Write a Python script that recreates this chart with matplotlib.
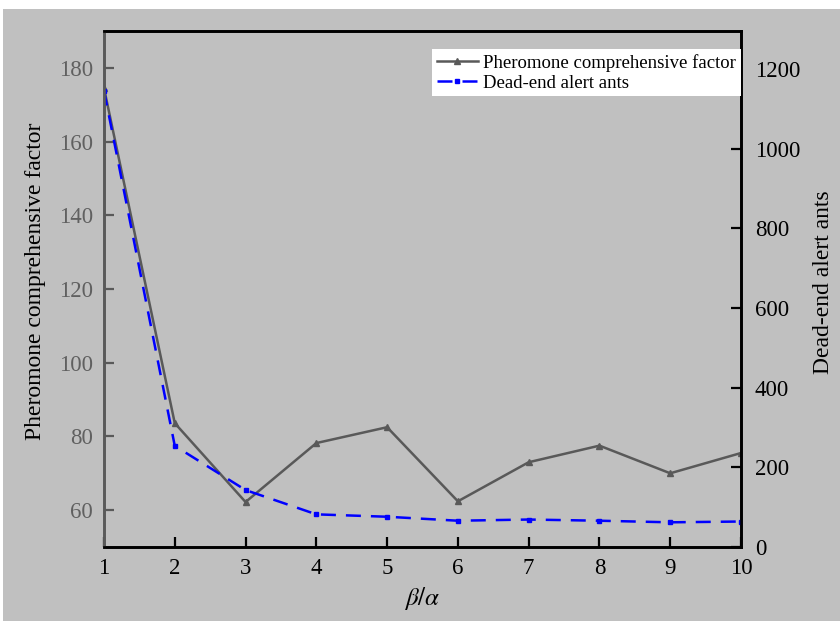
import numpy as np
import matplotlib.pyplot as plt
from matplotlib.patches import Rectangle

plt.rcParams['font.family'] = ['Liberation Serif', 'DejaVu Serif']
plt.rcParams['mathtext.fontset'] = 'stix'

# ratio beta/alpha
ratio = [1, 2, 3, 4, 5, 6, 7, 8, 9, 10]
# pheromone comprehensive factor (left axis)
pheromone = [174.5, 83.6, 62.2, 78.2, 82.5, 62.4, 73.0, 77.5, 70.0, 75.5]
# dead-end alert ants (right axis)
dead_end = [1146, 254, 143, 82, 76, 66, 69, 66, 62, 64]

bg = '#c0c0c0'
gray = '#595959'

fig = plt.figure(figsize=(8.4, 6.21), dpi=100)
fig.patch.set_facecolor('white')
fig.patches.append(Rectangle((3 / 840, 0), 1, 1 - 9 / 621, transform=fig.transFigure,
                             facecolor=bg, edgecolor='none', zorder=-10))

ax = fig.add_axes([104 / 840, 1 - 547 / 621, (741 - 104) / 840, (547 - 31) / 621])
ax.set_facecolor(bg)
ax2 = ax.twinx()

l1, = ax.plot(ratio, pheromone, color=gray, lw=1.8, marker='^', ms=4,
              label='Pheromone comprehensive factor')
l2, = ax2.plot(ratio, dead_end, color='#0000ff', lw=1.8, ls=(0, (6, 4)), marker='s', ms=3.5,
               label='Dead-end alert ants')

ax.set_xlim(1, 10)
ax.set_ylim(50, 190)
ax2.set_ylim(0, 1296)
ax.set_xticks(ratio)
ax.set_yticks([60, 80, 100, 120, 140, 160, 180])
ax2.set_yticks([0, 200, 400, 600, 800, 1000, 1200])

fs = 16.5
ax.tick_params(axis='x', direction='in', length=7, width=1.6, colors='black',
               labelsize=fs, pad=8)
ax.tick_params(axis='y', direction='in', length=7, width=1.6, color=gray,
               labelcolor='#606060', labelsize=fs, pad=8)
ax2.tick_params(axis='y', direction='in', length=7, width=1.6, colors='black',
                labelsize=fs, pad=10)

for a in (ax, ax2):
    for s in a.spines.values():
        s.set_linewidth(1.9)
        s.set_color('black')
    a.spines['left'].set_color(gray)

ax.set_ylabel('Pheromone comprehensive factor', fontsize=17)
ax2.set_ylabel('Dead-end alert ants', fontsize=17)
ax.yaxis.set_label_coords(-0.091, 0.514)
ax2.yaxis.set_label_coords(1.113, 0.514)
ax.set_xlabel(r'$\beta/\alpha$', fontsize=18, labelpad=4)

leg = ax2.legend(handles=[l1, l2], loc='upper right', bbox_to_anchor=(1.0, 0.965),
                 borderaxespad=0, fontsize=13.5, frameon=True, fancybox=False,
                 framealpha=1, edgecolor='none', handlelength=2.2,
                 handletextpad=0.3, labelspacing=0.15, borderpad=0.25)

fig.savefig('out.png', dpi=100, facecolor=fig.get_facecolor())
